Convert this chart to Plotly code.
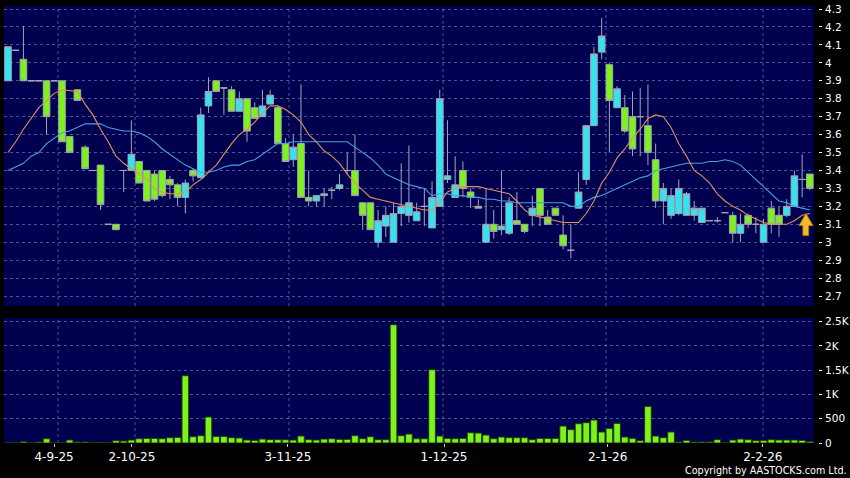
import plotly.graph_objects as go

# ---------------- data ----------------
opens = [3.90, 4.07, 4.02, 3.90, 3.90, 3.90, 3.90, 3.90, 3.59, 3.85,
         3.53, 3.40, 3.43, 3.10, 3.10, 3.40, 3.40, 3.45, 3.40, 3.38,
         3.40, 3.35, 3.32, 3.25, 3.40, 3.36, 3.76, 3.90, 3.86, 3.85,
         3.73, 3.80, 3.75, 3.70, 3.77, 3.75, 3.55, 3.46, 3.55, 3.25,
         3.23, 3.26, 3.29, 3.30, 3.40, 3.40, 3.22, 3.22, 3.00, 3.09,
         3.00, 3.16, 3.15, 3.12, 3.20, 3.08, 3.20, 3.35, 3.25, 3.40,
         3.28, 3.20, 3.00, 3.10, 3.07, 3.05, 3.12, 3.10, 3.15, 3.30,
         3.14, 3.19, 3.04, 2.955, 3.19, 3.35, 3.65, 4.06, 3.99, 3.75,
         3.75, 3.70, 3.70, 3.65, 3.46, 3.23, 3.15, 3.16, 3.15, 3.15,
         3.11, 3.12, 3.12, 3.165, 3.15, 3.05, 3.15, 3.10, 3.00, 3.19,
         3.15, 3.15, 3.20, 3.35, 3.38]
highs = [4.09, 4.07, 4.205, 3.90, 3.90, 3.90, 3.90, 3.90, 3.59, 3.85,
         3.54, 3.40, 3.43, 3.10, 3.10, 3.40, 3.68, 3.45, 3.40, 3.40,
         3.40, 3.37, 3.33, 3.35, 3.41, 3.75, 3.92, 3.90, 3.86, 3.87,
         3.84, 3.80, 3.78, 3.85, 3.85, 3.76, 3.58, 3.60, 3.88, 3.40,
         3.26, 3.30, 3.31, 3.38, 3.50, 3.60, 3.22, 3.22, 3.18, 3.20,
         3.22, 3.44, 3.54, 3.22, 3.30, 3.34, 3.85, 3.68, 3.48, 3.45,
         3.30, 3.24, 3.30, 3.18, 3.40, 3.25, 3.28, 3.10, 3.26, 3.30,
         3.18, 3.19, 3.15, 3.10, 3.39, 3.65, 4.09, 4.25, 4.00, 3.87,
         3.82, 3.84, 3.86, 3.88, 3.55, 3.33, 3.30, 3.35, 3.28, 3.23,
         3.19, 3.12, 3.14, 3.165, 3.17, 3.16, 3.16, 3.14, 3.13, 3.23,
         3.20, 3.24, 3.40, 3.49, 3.38]
lows = [3.90, 4.07, 3.90, 3.90, 3.90, 3.60, 3.90, 3.56, 3.50, 3.79,
        3.41, 3.40, 3.18, 3.10, 3.07, 3.28, 3.40, 3.33, 3.23, 3.23,
        3.25, 3.24, 3.20, 3.16, 3.34, 3.36, 3.72, 3.84, 3.71, 3.73,
        3.73, 3.56, 3.69, 3.70, 3.77, 3.55, 3.45, 3.42, 3.25, 3.20,
        3.20, 3.20, 3.24, 3.29, 3.38, 3.26, 3.07, 3.07, 2.97, 3.03,
        3.00, 3.09, 3.11, 3.12, 3.09, 3.08, 3.20, 3.33, 3.25, 3.25,
        3.19, 3.19, 3.00, 3.02, 3.04, 3.04, 3.10, 3.05, 3.09, 3.09,
        3.10, 3.15, 2.96, 2.91, 3.19, 3.32, 3.65, 4.02, 3.50, 3.75,
        3.61, 3.48, 3.48, 3.43, 3.19, 3.10, 3.13, 3.15, 3.15, 3.12,
        3.11, 3.12, 3.11, 3.165, 3.00, 3.00, 3.08, 3.05, 3.00, 3.05,
        3.03, 3.14, 3.20, 3.25, 3.29]
closes = [4.09, 4.07, 3.90, 3.90, 3.90, 3.70, 3.90, 3.56, 3.50, 3.79,
          3.41, 3.40, 3.21, 3.10, 3.07, 3.40, 3.49, 3.33, 3.23, 3.24,
          3.26, 3.32, 3.25, 3.33, 3.37, 3.71, 3.84, 3.84, 3.86, 3.73,
          3.80, 3.62, 3.69, 3.76, 3.82, 3.55, 3.45, 3.53, 3.25, 3.23,
          3.26, 3.27, 3.29, 3.32, 3.40, 3.26, 3.15, 3.07, 3.12, 3.15,
          3.16, 3.20, 3.22, 3.17, 3.20, 3.25, 3.80, 3.37, 3.32, 3.30,
          3.25, 3.19, 3.10, 3.06, 3.09, 3.22, 3.10, 3.06, 3.19, 3.15,
          3.10, 3.15, 2.98, 2.955, 3.28, 3.65, 4.05, 4.15, 3.79, 3.855,
          3.62, 3.52, 3.70, 3.50, 3.23, 3.30, 3.26, 3.30, 3.27, 3.19,
          3.19, 3.12, 3.12, 3.165, 3.05, 3.10, 3.10, 3.10, 3.10, 3.10,
          3.10, 3.20, 3.37, 3.35, 3.30]
ma_short = [3.50, 3.56, 3.63, 3.69, 3.75, 3.79, 3.83, 3.85, 3.845, 3.84,
            3.77, 3.71, 3.63, 3.56, 3.48, 3.44, 3.41, 3.38, 3.35, 3.30,
            3.28, 3.27, 3.27, 3.28, 3.32, 3.35, 3.39, 3.43, 3.49, 3.55,
            3.60, 3.63, 3.67, 3.72, 3.76, 3.76, 3.74, 3.71, 3.67, 3.60,
            3.56, 3.51, 3.48, 3.44, 3.38, 3.33, 3.29, 3.25, 3.24, 3.23,
            3.22, 3.21, 3.20, 3.19, 3.18, 3.18, 3.22, 3.28, 3.30, 3.31,
            3.31, 3.31, 3.30, 3.29, 3.28, 3.27, 3.23, 3.18, 3.15, 3.14,
            3.13, 3.12, 3.11, 3.11, 3.11, 3.16, 3.23, 3.33, 3.39, 3.47,
            3.52, 3.58, 3.63, 3.69, 3.71, 3.70, 3.64, 3.55, 3.48, 3.40,
            3.37, 3.33, 3.27, 3.23, 3.20, 3.18, 3.15, 3.13, 3.11, 3.10,
            3.10, 3.10, 3.12, 3.15, 3.16]
ma_long = [3.40, 3.42, 3.44, 3.48, 3.50, 3.55, 3.58, 3.61, 3.62, 3.64,
           3.66, 3.66, 3.66, 3.64, 3.63, 3.62, 3.62, 3.61, 3.59, 3.56,
           3.52, 3.49, 3.46, 3.43, 3.41, 3.39, 3.39, 3.40, 3.42, 3.43,
           3.43, 3.45, 3.46, 3.49, 3.52, 3.55, 3.55, 3.56, 3.56, 3.56,
           3.56, 3.56, 3.56, 3.56, 3.56, 3.53, 3.50, 3.47, 3.43, 3.38,
           3.36, 3.34, 3.32, 3.31, 3.30, 3.26, 3.27, 3.27, 3.26, 3.26,
           3.25, 3.25, 3.24, 3.24, 3.23, 3.23, 3.22, 3.22, 3.22, 3.22,
           3.22, 3.22, 3.22, 3.20, 3.20, 3.23, 3.25, 3.26, 3.28, 3.30,
           3.32, 3.34, 3.36, 3.37, 3.40, 3.41, 3.42, 3.43, 3.44, 3.44,
           3.44, 3.45, 3.45, 3.46, 3.45, 3.43, 3.39, 3.35, 3.31, 3.27,
           3.23, 3.22, 3.20, 3.19, 3.18]
volumes = [5, 3, 27, 3, 20, 89, 3, 8, 62, 20,
           20, 7, 14, 7, 48, 41, 62, 89, 96, 96,
           89, 110, 117, 1387, 130, 151, 536, 137, 137, 110,
           103, 62, 55, 82, 69, 69, 69, 62, 144, 69,
           62, 82, 89, 76, 76, 151, 89, 130, 69, 69,
           2438, 151, 185, 89, 89, 1511, 144, 96, 89, 96,
           213, 206, 165, 89, 124, 110, 110, 110, 69, 96,
           96, 96, 350, 275, 398, 419, 474, 227, 302, 405,
           124, 96, 48, 755, 144, 110, 227, 21, 55, 21,
           21, 21, 69, 5, 62, 82, 69, 48, 55, 69,
           62, 62, 62, 55, 27]
bars = list(range(len(closes)))

date_labels = ["4-9-25", "2-10-25", "3-11-25", "1-12-25", "2-1-26", "2-2-26"]
date_tick_pos = [5.97, 16.08, 36.3, 56.55, 77.78, 97.9]
date_grid_pos = [6.49, 16.47, 36.45, 56.42, 77.56, 97.92]
price_ticks = [2.7, 2.8, 2.9, 3.0, 3.1, 3.2, 3.3, 3.4, 3.5, 3.6, 3.7, 3.8, 3.9, 4.0, 4.1, 4.2, 4.3]
price_tick_text = ["2.7", "2.8", "2.9", "3", "3.1", "3.2", "3.3", "3.4", "3.5", "3.6",
                   "3.7", "3.8", "3.9", "4", "4.1", "4.2", "4.3"]
vol_ticks = [0, 500, 1000, 1500, 2000, 2500]
vol_tick_text = ["0", "500", "1K", "1.5K", "2K", "2.5K"]

# ---------------- style ----------------
BG = "#000050"
GRID = "rgba(150,150,200,0.55)"
CYAN = "#33e4f0"
LIME = "#7ef21c"
WICK = "#a4a4b4"
FONT = "DejaVu Sans"

fig = go.Figure()

fig.add_trace(go.Candlestick(
    x=bars, open=opens, high=highs, low=lows, close=closes,
    increasing=dict(fillcolor=CYAN, line=dict(color=WICK, width=1)),
    decreasing=dict(fillcolor=LIME, line=dict(color=WICK, width=1)),
    whiskerwidth=0, xaxis="x", yaxis="y", showlegend=False, hoverinfo="skip"))

fig.add_trace(go.Scatter(x=bars, y=ma_long, mode="lines",
                         line=dict(color="#45a2e0", width=1.1),
                         xaxis="x", yaxis="y", showlegend=False, hoverinfo="skip"))
fig.add_trace(go.Scatter(x=bars, y=ma_short, mode="lines",
                         line=dict(color="#e0925c", width=1.1),
                         xaxis="x", yaxis="y", showlegend=False, hoverinfo="skip"))

fig.add_trace(go.Bar(x=bars, y=volumes, marker=dict(color=LIME, line=dict(color="#1c3a00", width=1)),
                     xaxis="x2", yaxis="y2", showlegend=False, hoverinfo="skip"))

# vertical dashed grid lines (both panels)
shapes = []
for g in date_grid_pos:
    for xr, yr in (("x", "y domain"), ("x2", "y2 domain")):
        shapes.append(dict(type="line", xref=xr, yref=yr, x0=g, x1=g, y0=0, y1=1,
                           line=dict(color=GRID, width=1, dash="3px,3px"), layer="below"))

# golden arrow under the last candles, pointing at the averages
last = bars[-1]
tip_y = ma_short[-1]
ax0, ax1 = last - 1.4, last + 0.4
sx0, sx1 = last - 0.9, last - 0.15
hx = last - 0.5
path = (f"M {hx},{tip_y} L {ax1},{tip_y - 0.067} L {sx1},{tip_y - 0.067} "
        f"L {sx1},{tip_y - 0.122} L {sx0},{tip_y - 0.122} L {sx0},{tip_y - 0.067} "
        f"L {ax0},{tip_y - 0.067} Z")
shapes.append(dict(type="path", xref="x", yref="y", path=path,
                   fillcolor="#f4bb2c", line=dict(color="#b57a0c", width=1), layer="above"))

x_range = [-0.52, 104.54]
fig.update_layout(
    width=850, height=478,
    margin=dict(l=4, r=32, t=6, b=35, autoexpand=False),
    paper_bgcolor="black", plot_bgcolor=BG,
    font=dict(family=FONT, color="white", size=11),
    boxgap=0.14, boxgroupgap=0, bargap=0.13,
    showlegend=False,
    shapes=shapes,
    xaxis=dict(domain=[0, 810 / 814], range=x_range, anchor="y", showgrid=False,
               showticklabels=False, zeroline=False, rangeslider=dict(visible=False),
               fixedrange=True, automargin=False),
    yaxis=dict(domain=[137 / 437, 1], range=[2.6445, 4.317], anchor="free", position=1.0,
               side="right", tickvals=price_ticks, ticktext=price_tick_text,
               ticks="outside", ticklen=3, tickcolor="white", tickwidth=1,
               ticklabelstandoff=1, automargin=False,
               showgrid=True, gridcolor=GRID, griddash="3px,3px", gridwidth=1,
               zeroline=False, showline=False, tickfont=dict(size=10.5, color="white")),
    xaxis2=dict(domain=[0, 810 / 814], range=x_range, anchor="y2", showgrid=False,
                tickvals=date_tick_pos, ticktext=date_labels, ticks="outside", ticklen=3,
                tickcolor="#cccccc", zeroline=False, showline=False, automargin=False,
                tickfont=dict(size=12, color="white")),
    yaxis2=dict(domain=[0, 125 / 437], range=[0, 2576], anchor="free", position=1.0,
                side="right", tickvals=vol_ticks, ticktext=vol_tick_text,
                ticks="outside", ticklen=3, tickcolor="white", tickwidth=1,
                ticklabelstandoff=1, automargin=False,
                showgrid=True, gridcolor=GRID, griddash="3px,3px", gridwidth=1,
                zeroline=False, showline=False, tickfont=dict(size=10.5, color="white")),
    annotations=[dict(text="Copyright by AASTOCKS.com Ltd.", xref="paper", yref="paper",
                      x=1, y=0, xanchor="right", yanchor="middle", xshift=31, yshift=-27,
                      showarrow=False, font=dict(size=9.6, color="white", family=FONT))],
)

fig.write_html("out.html", config={"displayModeBar": False},
               post_script="document.body.style.margin='0';")
